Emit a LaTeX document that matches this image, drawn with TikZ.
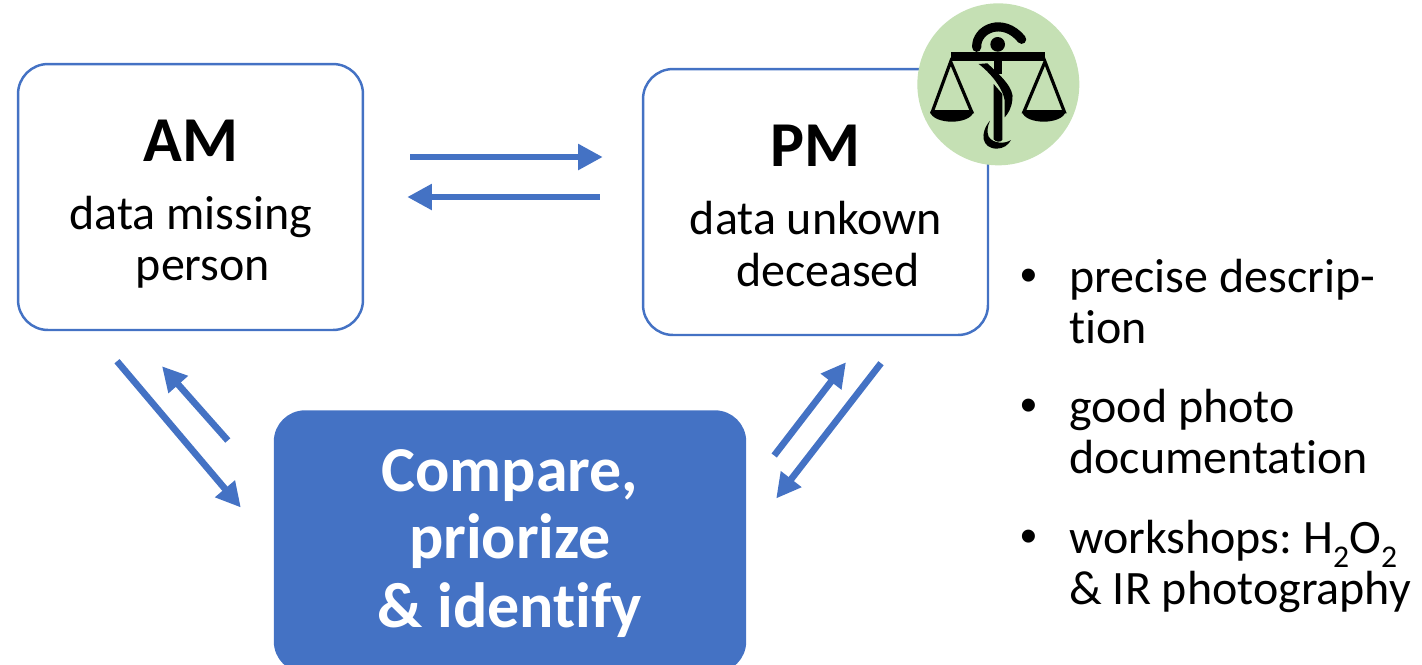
\documentclass[tikz,border=0pt]{standalone}
\usepackage{fontspec}
\setmainfont[Ligatures=NoCommon]{Carlito}
\newfontfamily\bulletfont{Liberation Sans}
\usetikzlibrary{arrows.meta}
\definecolor{boxblue}{HTML}{4472C4}
\definecolor{logogreen}{HTML}{C5E0B4}
\newcommand{\lowtwo}{\raisebox{-0.3em}{\fontsize{18}{18}\selectfont 2}}
\tikzset{
  bigbox/.style={draw=boxblue,line width=1.4pt,fill=white,rounded corners=0.6cm,minimum width=6.9cm,minimum height=5.32cm,inner sep=0pt},
  flow/.style={draw=boxblue,line width=3.8pt,-{Triangle[length=14pt,width=14pt]}},
  headtext/.style={font=\fontsize{36.4}{42}\selectfont\bfseries,anchor=base},
  bodytext/.style={font=\fontsize{27.3}{32}\selectfont,anchor=base},
  listtext/.style={font=\fontsize{27.3}{32}\selectfont,anchor=base west,inner sep=0pt},
  comparetext/.style={font=\fontsize{36.4}{42}\selectfont\bfseries,anchor=base,text=white},
}
\begin{document}
\begin{tikzpicture}[x=0.02cm,y=-0.02cm]
        \useasboundingbox (0,0) rectangle (1422,664);
        \node[bigbox] (am) at (190.5,197) {}; %AM
        \node[bigbox] (pm) at (815.5,202) {}; %PM
        \node[bigbox,fill=boxblue,minimum width=9.4cm,minimum height=5.2cm] (compare) at (510,541.5) {}; %Compare
        \node[headtext] (amtitle) at (191,161) {AM};
        \node[bodytext] (amdata) at (191,229) {data missing};
        \node[bodytext] (amperson) at (203,280) {person};
        \node[headtext] (pmtitle) at (815,166) {PM};
        \node[bodytext] (pmdata) at (816,234) {data unkown};
        \node[bodytext] (pmdeceased) at (828,286) {deceased};
        \node[comparetext] (comparea) at (510,491) {Compare,};
        \node[comparetext] (compareb) at (510,558) {priorize};
        \node[comparetext] (comparec) at (510,627) {\&~identify};
        %arrows
        \draw[flow] ([shift={(46,-40)}]am.east)--([shift={(-39,-45)}]pm.west);
        \draw[flow] ([shift={(-42,-5)}]pm.west)--([shift={(43,0)}]am.east);
        \draw[flow] ([shift={(-73.5,30)}]am.south)--([shift={(-33,-34)}]compare.west);
        \draw[flow] ([shift={(-46,-101)}]compare.west)--([shift={(-28.5,35)}]am.south);
        \draw[flow] ([shift={(28,-86)}]compare.east)--([shift={(30.5,26)}]pm.south);
        \draw[flow] ([shift={(65.5,27)}]pm.south)--([shift={(30,-43)}]compare.east);
        %list
        \node[listtext] (bulleta) at (1020,291) {\bulletfont •};
        \node[listtext] (lista) at (1069,292) {precise descrip-};
        \node[listtext] (listb) at (1069,343) {tion};
        \node[listtext] (bulletb) at (1020,421) {\bulletfont •};
        \node[listtext] (listc) at (1069,422) {good photo};
        \node[listtext] (listd) at (1069,473) {documentation};
        \node[listtext] (bulletc) at (1020,552) {\bulletfont •};
        \node[listtext] (liste) at (1069,553) {workshops:\hspace{-2pt} H\lowtwo O\lowtwo};
        \node[listtext] (listf) at (1069,604) {\&~IR photography};
        %logo
        \begin{scope}[shift={(900,0)},x=0.02cm/3,y=-0.02cm/3]
        \fill[logogreen] (295,253) circle (243);
        \fill[black] (152,155) rectangle (435,182); %balken
        \fill[black] (293,133) circle (22);
        \draw[line width=5.2pt,line cap=round] (230,142) .. controls (228,85) and (310,50) .. (365,118);
        \fill[black] (283,182) rectangle (307,222); %stab
        \fill[black] (281,252) -- (307,282) -- (307,420) .. controls (300,428) and (288,426) .. (281,418) -- cycle;
        \fill[black] (236,192) -- (262,190) .. controls (300,225) and (345,265) .. (337,300) .. controls (334,325) and (325,340) .. (314,352) -- (314,312) .. controls (318,280) and (280,225) .. (236,192) -- cycle;
        \fill[black] (270,362) .. controls (238,400) and (245,445) .. (290,446) .. controls (310,446) and (325,435) .. (333,420) .. controls (315,432) and (280,432) .. (266,410) .. controls (260,395) and (262,380) .. (270,362) -- cycle;
        %schalen
        \draw[line width=1.8pt] (152,185)--(97,335)--(215,335)--cycle;
        \draw[line width=1.8pt] (435,185)--(372,335)--(493,335)--cycle;
        \fill[black] (90,335) .. controls (100,375) and (210,375) .. (221,335) -- cycle;
        \fill[black] (366,335) .. controls (376,375) and (486,375) .. (497,335) -- cycle;
        \end{scope}
\end{tikzpicture}
\end{document}
